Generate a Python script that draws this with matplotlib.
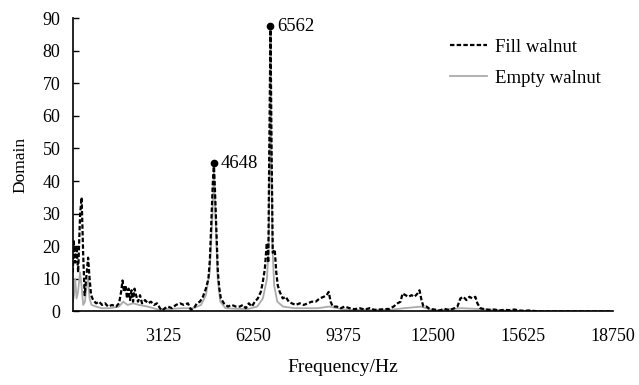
import matplotlib
matplotlib.use("Agg")
import matplotlib.pyplot as plt

plt.rcParams["font.family"] = "serif"
plt.rcParams["font.serif"] = ["Liberation Serif", "DejaVu Serif"]
plt.rcParams["font.size"] = 13

# Fill walnut spectrum (frequency in Hz, amplitude)
fill_freq = [0, 28, 80, 132, 184, 253, 305, 357, 409, 461, 530, 582, 634, 704,
             808, 912, 1016, 1120, 1224, 1362, 1501, 1605, 1675, 1726, 1778,
             1830, 1882, 1934, 1986, 2038, 2090, 2142, 2194, 2263, 2333, 2402,
             2506, 2610, 2714, 2818, 2922, 3026, 3095, 3199, 3303, 3442, 3580,
             3719, 3857, 3996, 4100, 4204, 4308, 4412, 4516, 4620, 4707, 4759,
             4811, 4863, 4897, 4932, 4984, 5036, 5088, 5140, 5244, 5383, 5521,
             5660, 5799, 5903, 6007, 6111, 6215, 6319, 6423, 6527, 6596, 6666,
             6735, 6787, 6821, 6863, 6901, 6942, 7011, 7064, 7116, 7185, 7289,
             7393, 7497, 7601, 7740, 7879, 8017, 8156, 8294, 8433, 8572, 8710,
             8814, 8883, 8953, 9022, 9161, 9299, 9438, 9611, 9784, 9958, 10131,
             10304, 10478, 10651, 10824, 10997, 11136, 11275, 11379, 11448,
             11552, 11656, 11760, 11864, 11968, 12037, 12107, 12176, 12280,
             12384, 12557, 12731, 12904, 13077, 13250, 13354, 13458, 13562,
             13666, 13770, 13874, 13978, 14047, 14151, 14290, 14463, 14636,
             14809, 14983, 15156, 15329, 15502, 15676, 15849, 16196, 18750]
fill_amp = [12, 22, 15, 20, 12, 30, 35, 18, 5, 10, 16.5, 10, 5, 3.5,
            2.5, 3, 2, 2.5, 1.5, 2, 1.5, 2.5, 6, 9.5, 6,
            8, 4, 7, 3.5, 6.5, 3, 7, 5, 3, 5, 2.5,
            3.5, 2.5, 3, 2, 2.5, 1, 0.3, 1, 1.5, 1, 2,
            2.5, 2, 2.5, 0.5, 1, 2.5, 3, 4.5, 7, 10, 16,
            28, 40, 45.5, 38, 25, 12, 7, 4, 2.5, 1.5, 2,
            1.5, 1.5, 2, 1, 2.5, 1.5, 3, 4, 6, 9, 13,
            21, 15, 50, 87.5, 50, 18, 19, 12, 8, 6, 4,
            4.5, 3, 2.5, 2, 2.5, 2, 2.5, 3, 3, 4, 4.5,
            5, 6, 3, 1.5, 1.5, 1, 1.5, 1, 0.7, 1, 0.6,
            1, 0.5, 0.6, 0.7, 0.8, 1.5, 2.5, 3, 5.5,
            5, 4.5, 5, 4.5, 5.5, 6.5, 3.5, 1.5, 1.5,
            0.8, 0.6, 0.3, 0.8, 0.4, 1, 1.5, 4, 4.5,
            3.5, 4.5, 4, 4.5, 2.5, 1, 0.7, 0.5, 0.6,
            0.3, 0.5, 0.4, 0.6, 0.3, 0.2, 0.3, 0, 0]

# Empty walnut spectrum
empty_freq = [0, 40, 80, 130, 180, 250, 300, 360, 420, 480, 530, 580, 650,
              800, 1000, 1300, 1600, 1750, 1900, 2100, 2300, 2600, 3000, 3400,
              3800, 4200, 4450, 4620, 4750, 4850, 4900, 4950, 5030, 5120, 5300,
              5700, 6100, 6400, 6600, 6740, 6800, 6840, 6865, 6890, 6930, 6990,
              7100, 7300, 7700, 8500, 8900, 9500, 11000, 11500, 12100, 12500,
              13500, 14000, 15000, 16500, 18750]
empty_amp = [3, 5, 10, 4, 6, 12, 8, 2, 3, 8, 10, 4, 2,
             1.5, 1, 1, 1.5, 3, 2, 2.5, 2, 1.5, 0.5, 0.8,
             1, 1, 2, 5, 12, 30, 44, 30, 10, 3, 1,
             0.8, 0.8, 1.5, 4, 10, 20, 50, 85, 50, 20, 8,
             3, 1.5, 1, 1, 1.5, 0.5, 0.5, 1, 1.5, 0.3,
             1, 0.8, 0.3, 0, 0]

peak_freq = [4897, 6863]
peak_amp = [45.5, 87.5]
peak_labels = ["4648", "6562"]

xtick_vals = [3125, 6250, 9375, 12500, 15625, 18750]

fig = plt.figure(figsize=(6.39, 3.85), dpi=100)
ax = fig.add_axes([0.114, 0.191, 0.845, 0.762])

ax.plot(empty_freq, empty_amp, color="#ababab", lw=1.3, label="Empty walnut")
ax.plot(fill_freq, fill_amp, color="black", lw=1.6, linestyle=(0, (2, 1)),
        label="Fill walnut")
ax.plot(peak_freq, peak_amp, "o", color="black", ms=4.5)
for px, py, txt in zip(peak_freq, peak_amp, peak_labels):
    ax.annotate(txt, (px, py), xytext=(5, 0), textcoords="offset points",
                va="center", ha="left", fontsize=13.5)

ax.set_xlim(0, 18750)
ax.set_ylim(0, 90)
ax.set_xticks(xtick_vals)
ax.set_xticks([18750], minor=True)
ax.set_yticks(range(0, 91, 10))
ax.tick_params(axis="x", length=0, pad=12, labelsize=13)
ax.tick_params(axis="x", which="minor", direction="in", length=4, width=1)
ax.tick_params(axis="y", direction="in", length=4, width=1, pad=9, labelsize=13)
for side in ["top", "right"]:
    ax.spines[side].set_visible(False)
for side in ["left", "bottom"]:
    ax.spines[side].set_linewidth(1.2)

ax.set_xlabel("Frequency/Hz", fontsize=14, labelpad=10)
ax.set_ylabel("Domain", fontsize=12.5, labelpad=10)

handles, labels = ax.get_legend_handles_labels()
ax.legend(handles[::-1], labels[::-1], loc="upper left",
          bbox_to_anchor=(0.698, 0.93), frameon=False, fontsize=13.5,
          borderpad=0, borderaxespad=0,
          handlelength=2.0, labelspacing=0.75, handletextpad=0.4)

fig.savefig("out.png", dpi=100)
